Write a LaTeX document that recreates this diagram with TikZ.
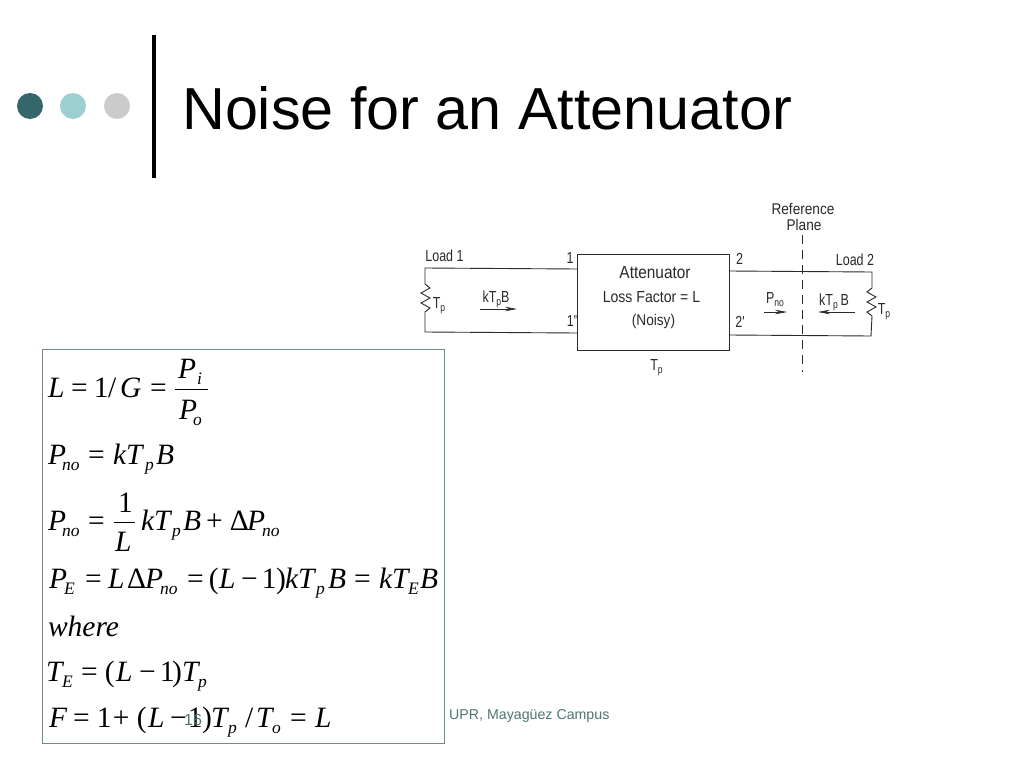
\documentclass[tikz,border=0pt]{standalone}
\usepackage{fontspec}
\setmainfont{Liberation Serif}
\newfontfamily\sansf{Liberation Sans}
\newfontfamily\diagf[FakeStretch=0.78]{Liberation Sans}
\newfontfamily\diagw[FakeStretch=0.88]{Liberation Sans}
\newcommand{\sz}[1]{\fontsize{#1}{#1}\selectfont}
\newcommand{\II}[1]{\textit{#1}}
\newcommand{\Sb}[1]{\raisebox{-6pt}{\sz{17.5}\textit{#1}}}
\newcommand{\Ds}[1]{\raisebox{-3pt}{\sz{11}#1}}
% piece set at an absolute x of the picture, inside an equation line
\newcommand{\At}[2]{\rlap{\hspace{\dimexpr#1pt-\Xo\relax}#2}}
\newcommand{\EqLine}[5]{\def\Xo{#2pt}\node[eqn,minimum width=#4pt,text width=#4pt] (#1) at (#2,#3) {#5};}
\definecolor{framec}{HTML}{6F8C8C}
\definecolor{footc}{HTML}{4F7474}
\definecolor{dota}{HTML}{35666B}
\definecolor{dotb}{HTML}{9CCFD1}
\definecolor{dotc}{HTML}{CBCBCB}
\definecolor{inkc}{HTML}{2A2A2A}
\usetikzlibrary{arrows.meta}
\tikzset{
  x=1pt,y=-1pt,
  eqn/.style={anchor=base west,inner sep=0pt,outer sep=0pt,font=\sz{29.5}},
  lab/.style={anchor=base,inner sep=0pt,outer sep=0pt,text=inkc,font=\diagf\sz{16}},
  labw/.style={lab,font=\diagw\sz{15.5}},
  wire/.style={draw=inkc,line width=0.9pt},
  flow/.style={draw=inkc,line width=0.7pt,-{Stealth[length=12pt,width=4.5pt]}},
  ball/.style={circle,minimum size=26pt,inner sep=0pt}
}
\begin{document}
\begin{tikzpicture}
\useasboundingbox (0,0) rectangle (1024,768);
\fill[white] (0,0) rectangle (1024,768);
% decoration
\node[ball,fill=dota] (d1) at (30,106) {};
\node[ball,fill=dotb] (d2) at (73,106) {};
\node[ball,fill=dotc] (d3) at (117,106) {};
\fill[black] (152,35) rectangle (156,178);
\node[anchor=base west,inner sep=0pt,font=\sansf\sz{59.3}] (title) at (182,129) {Noise for an Attenuator};
% circuit
\node[draw=inkc,line width=0.9pt,minimum width=152pt,minimum height=96pt,inner sep=0pt] (box) at (653.5,302.5) {};
\coordinate (a1) at (577.5,269);
\coordinate (a2) at (577.5,333);
\coordinate (l1) at (425,268);
\coordinate (l2) at (425,332);
\coordinate (b1) at (729.5,271);
\coordinate (b2) at (729.5,335);
\coordinate (r1) at (872,272);
\coordinate (r2) at (871,336);
\draw[wire] (a1) -- (l1) -- (425,284) -- (430,288) -- (421,293) -- (430,298) -- (421,303) -- (430,308) -- (425,312) -- (l2) -- (a2);
\draw[wire] (b1) -- (r1) -- (872,288) -- (867,292) -- (876,297) -- (867,302) -- (876,307) -- (867,312) -- (872,316) -- (r2) -- (b2);
\coordinate (p1) at (802,235);
\coordinate (p2) at (802,372);
\draw[draw=inkc,line width=0.9pt,dash pattern=on 9pt off 6pt] (p1) -- (p2);
\coordinate (f1a) at (480,309); \coordinate (f1b) at (517,309);
\coordinate (f2a) at (764,312); \coordinate (f2b) at (787,312);
\coordinate (f3a) at (855,312); \coordinate (f3b) at (818,312);
\draw[flow] (f1a) -- (f1b);
\draw[flow] (f2a) -- (f2b);
\draw[flow] (f3a) -- (f3b);
\node[lab] (t1) at (444.5,261) {Load 1};
\node[lab] (t2) at (570,263) {1};
\node[lab] (t3) at (572.5,326) {1"};
\node[lab] (t4) at (739.5,264) {2};
\node[lab] (t5) at (740,327) {2'};
\node[lab] (t6) at (855,265) {Load 2};
\node[lab] (t7) at (496,302) {kT\Ds{p}B};
\node[lab] (t8) at (775,303) {P\Ds{no}};
\node[lab] (t9) at (834,305) {kT\Ds{p}\,B};
\node[lab] (t10) at (439,308) {T\Ds{p}};
\node[lab] (t11) at (884,314) {T\Ds{p}};
\node[lab] (t12) at (656.5,370) {T\Ds{p}};
\node[labw] (t13) at (803,214) {Reference};
\node[labw] (t14) at (804,230) {Plane};
\node[labw,font=\diagw\sz{17.5}] (t15) at (655,278) {Attenuator};
\node[labw,font=\diagw\sz{16}] (t16) at (651.5,302) {Loss Factor = L};
\node[labw,font=\diagw\sz{15.5}] (t17) at (653.5,325) {(Noisy)};
% equations
\node[draw=framec,line width=1pt,fill=white,minimum width=402pt,minimum height=394pt,inner sep=0pt] (frame) at (243,546) {};
\EqLine{e1}{48}{397}{120}{\At{48}{\II{L}}\At{71}{=}\At{94}{1}\At{108}{/}\At{120}{\II{G}}\At{150}{=}}
\EqLine{e1a}{178}{378}{30}{\At{178}{\II{P}}\At{197}{\Sb{i}}}
\EqLine{e1b}{179}{419}{30}{\At{179}{\II{P}}\At{193}{\Sb{o}}}
\draw[line width=0.9pt] (175,389.5) -- (208,389.5);
\EqLine{e2}{48}{464}{126}{\At{48}{\II{P}}\At{62}{\Sb{no}}\At{88}{=}\At{113}{\II{k}}\At{126}{\II{T}}\At{145}{\Sb{p}}\At{156}{\II{B}}}
\EqLine{e3}{48}{530}{58}{\At{48}{\II{P}}\At{62}{\Sb{no}}\At{88}{=}}
\EqLine{e3a}{118}{512}{15}{1}
\EqLine{e3b}{115}{551}{20}{\II{L}}
\draw[line width=0.9pt] (114,522) -- (135,522);
\EqLine{e3c}{141}{530}{140}{\At{141}{\II{k}}\At{154}{\II{T}}\At{172}{\Sb{p}}\At{183}{\II{B}}\At{206}{+}\At{230}{Δ}\At{247}{\II{P}}\At{262}{\Sb{no}}}
\EqLine{e4}{49}{588}{390}{\At{49}{\II{P}}\At{64}{\Sb{E}}\At{85}{=}\At{108}{\II{L}}\At{127}{Δ}\At{145}{\II{P}}\At{160}{\Sb{no}}\At{187}{=}\At{209}{(}\At{219}{\II{L}}\At{241}{−}\At{262}{1}\At{276}{)}\At{285}{\II{k}}\At{298}{\II{T}}\At{316}{\Sb{p}}\At{328}{\II{B}}\At{354}{=}\At{379}{\II{k}}\At{392}{\II{T}}\At{408}{\Sb{E}}\At{420}{\II{B}}}
\EqLine{e5}{48}{636}{72}{\II{where}}
\EqLine{e6}{46}{681}{165}{\At{46}{\II{T}}\At{62}{\Sb{E}}\At{81}{=}\At{105}{(}\At{116}{\II{L}}\At{139}{−}\At{160}{1}\At{172}{)}\At{182}{\II{T}}\At{198}{\Sb{p}}}
\EqLine{e7}{49}{727}{285}{\At{49}{\II{F}}\At{73}{=}\At{97}{1}\At{113}{+}\At{137}{(}\At{148}{\II{L}}\At{170}{−}\At{188}{1}\At{202}{)}\At{211}{\II{T}}\At{228}{\Sb{p}}\At{245}{/}\At{256}{\II{T}}\At{272}{\Sb{o}}\At{290}{=}\At{315}{\II{L}}}
\node[anchor=base,inner sep=0pt,text=footc,font=\sansf\sz{16}] (pg) at (193,725) {16};
\node[anchor=base west,inner sep=0pt,text=footc,font=\sansf\sz{14.2}] (foot) at (449,719) {UPR, Mayagüez Campus};
\end{tikzpicture}
\end{document}
